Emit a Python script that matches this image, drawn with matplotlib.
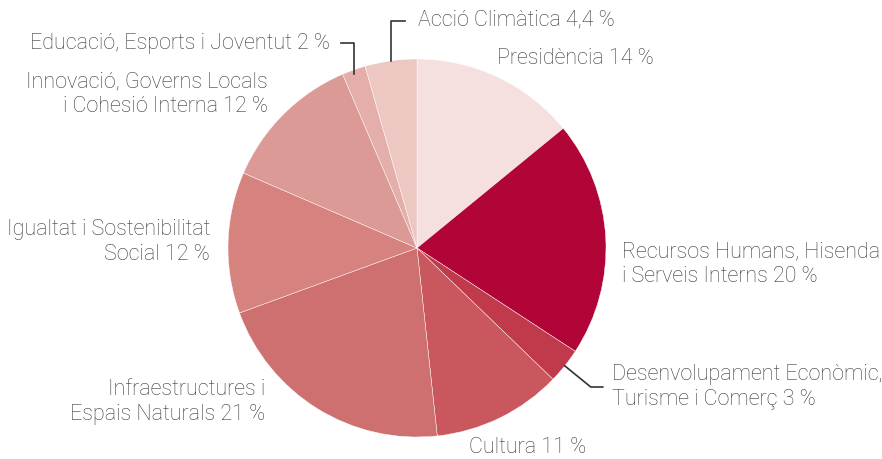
import numpy as np
import matplotlib.pyplot as plt

# pie data, clockwise from the top
labels = ['Presidència 14 %',
          'Recursos Humans, Hisenda\ni Serveis Interns 20 %',
          'Desenvolupament Econòmic,\nTurisme i Comerç 3 %',
          'Cultura 11 %',
          'Infraestructures i\nEspais Naturals 21 %',
          'Igualtat i Sostenibilitat\nSocial 12 %',
          'Innovació, Governs Locals\ni Cohesió Interna 12 %',
          'Educació, Esports i Joventut 2 %',
          'Acció Climàtica 4,4 %']
values = [14, 20, 3, 11, 21, 12, 12, 2, 4.4]
colors = ['#f5e0df', '#b10538', '#c13a4c', '#c9575d', '#cf7070',
          '#d6837f', '#dc9a97', '#e4aeaa', '#edc8c3']

# label anchor (x, y in pixels from top-left) and alignment
label_pos = [(497, 59, 'left'), (622, 264, 'left'), (612, 387, 'left'),
             (469, 448, 'left'), (265, 402, 'right'), (210, 242, 'right'),
             (268, 94, 'right'), (330, 44, 'right'), (418, 20, 'left')]

W, H = 882, 460
cx, cy, R = 417, H - 249, 189

plt.rcParams['font.family'] = ['Roboto', 'DejaVu Sans']
fig = plt.figure(figsize=(W / 100, H / 100), dpi=100)
ax = fig.add_axes([0, 0, 1, 1])

wedges, _ = ax.pie(values, colors=colors, startangle=90, counterclock=False,
                   center=(cx, cy), radius=R, frame=True,
                   wedgeprops=dict(edgecolor='white', linewidth=0.3))
ax.set_xlim(0, W)
ax.set_ylim(0, H)
ax.set_aspect('equal')
ax.axis('off')

for lab, (x, y, ha) in zip(labels, label_pos):
    ax.text(x, H - y, lab, ha=ha, va='center', fontsize=15.5, color='#3a3a3a',
            fontweight='light', linespacing=1.2)

# leader lines
def edge_point(w):
    a = np.deg2rad((w.theta1 + w.theta2) / 2)
    return cx + R * np.cos(a), cy + R * np.sin(a)

lc = '#333333'
# Acció Climàtica
x0, y0 = edge_point(wedges[8])
ax.plot([x0, x0, x0 + 14], [y0, H - 22, H - 22], color=lc, lw=1.2)
# Educació
x0, y0 = edge_point(wedges[7])
ax.plot([x0, x0, x0 - 13], [y0 - 4, H - 44, H - 44], color=lc, lw=1.2)
# Desenvolupament
x0, y0 = edge_point(wedges[2])
ax.plot([x0, x0 + 26, x0 + 38], [y0, H - 388, H - 388], color=lc, lw=1.2)

fig.savefig('out.png', dpi=100, facecolor='white')
